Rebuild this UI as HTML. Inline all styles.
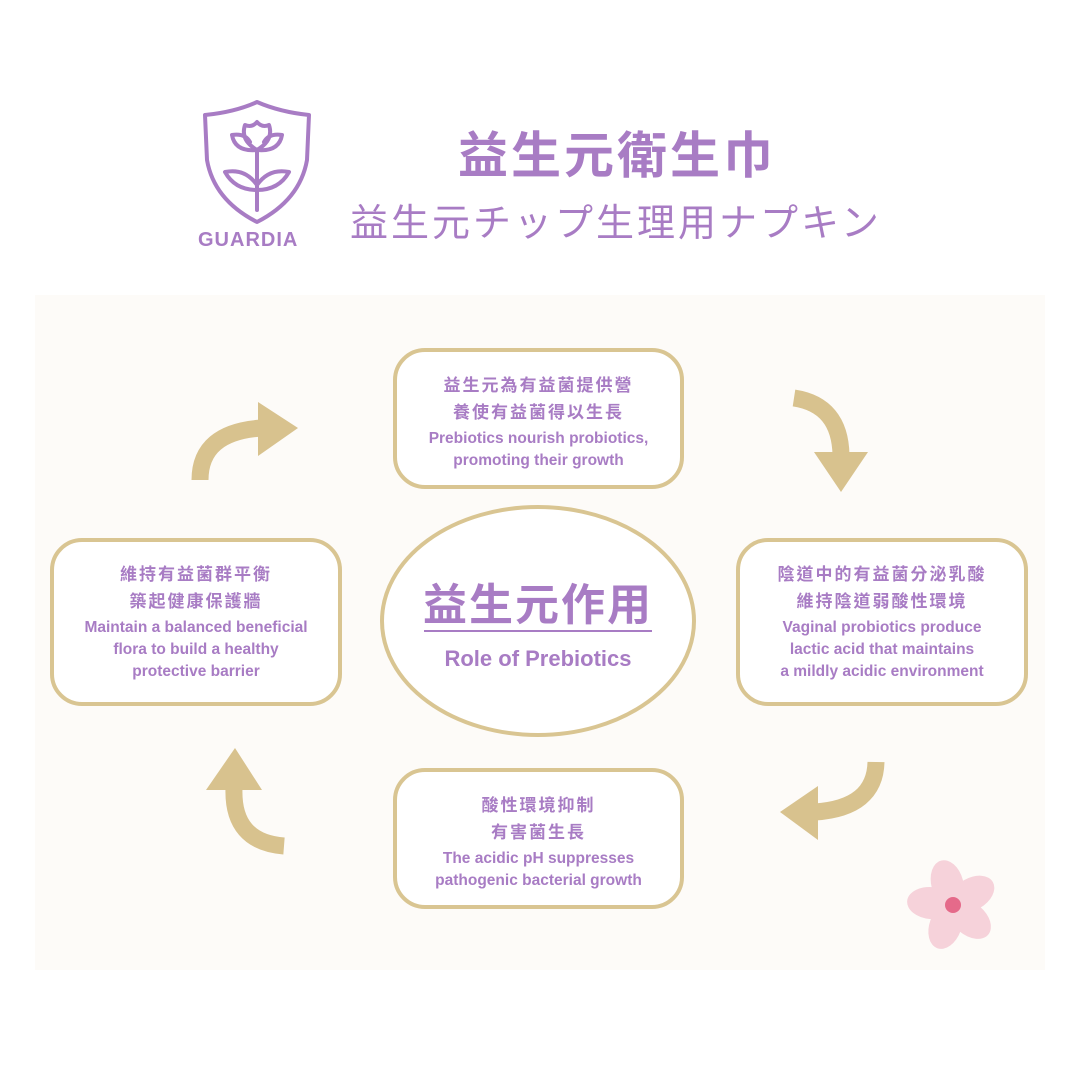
<!DOCTYPE html>
<html><head><meta charset="utf-8"><style>
body{margin:0;width:1080px;height:1080px;background:#fff;position:relative;overflow:hidden;font-family:"Liberation Sans","Noto Sans CJK TC",sans-serif;color:#a87cc4}
.panel{position:absolute;left:35px;top:295px;width:1010px;height:675px;background:#fdfbf8}
.box{position:absolute;border:4px solid #d9c592;border-radius:32px;background:#fff;box-sizing:border-box;text-align:center;font-weight:bold}
.cn{font-size:17px;letter-spacing:2px;line-height:27px}
.en{font-size:15.5px;line-height:22px;margin-top:2px;white-space:nowrap}
.abs{position:absolute}
</style></head><body>
<div class="panel"></div>
<svg class="abs" style="left:0;top:0" width="1080" height="1080">
<g fill="none" stroke="#a87cc4" stroke-width="4" stroke-linejoin="round" stroke-linecap="round">
<path d="M205 115 Q235 112 257 102 Q280 112 309 115 L307 160 Q300 200 257 222 Q214 200 207 160 Z"/>
<path d="M257 210 V150"/>
<path d="M257 150 Q240 140 245 125 Q252 128 257 122 Q262 128 269 125 Q274 140 257 150Z"/>
<path d="M257 150 Q235 152 232 135 Q245 133 250 142"/>
<path d="M257 150 Q279 152 282 135 Q269 133 264 142"/>
<path d="M257 190 Q235 190 225 172 Q245 168 257 185"/>
<path d="M257 190 Q279 190 289 172 Q269 168 257 185"/>
</g>
<ellipse cx="538" cy="621" rx="156" ry="114" fill="#fff" stroke="#d9c592" stroke-width="4"/>
<line x1="424" y1="631" x2="652" y2="631" stroke="#a87cc4" stroke-width="2"/>
<g fill="none" stroke="#d8c28e" stroke-width="17">
<path d="M200 480 Q200 432 262 428"/>
<path d="M794 398 Q840 405 841 455"/>
<path d="M876 762 Q875 808 815 812"/>
<path d="M284 846 Q232 842 234 788"/>
</g>
<g fill="#d8c28e">
<path d="M258 402 L298 428 L258 456 Z"/>
<path d="M814 452 L868 452 L841 492 Z"/>
<path d="M818 786 L818 840 L780 812 Z"/>
<path d="M206 790 L262 790 L235 748 Z"/>
</g>
<g transform="translate(953,905)">
<g fill="#f6d2da">
<ellipse cx="0" cy="-22" rx="16" ry="24" transform="rotate(-15)"/>
<ellipse cx="0" cy="-22" rx="16" ry="24" transform="rotate(60)"/>
<ellipse cx="0" cy="-22" rx="16" ry="24" transform="rotate(130)"/>
<ellipse cx="0" cy="-22" rx="16" ry="24" transform="rotate(200)"/>
<ellipse cx="0" cy="-22" rx="16" ry="24" transform="rotate(275)"/>
</g>
<circle r="8" fill="#e56a8a"/>
</g>
</svg>
<div class="abs" style="left:198px;top:229px;font-size:20px;font-weight:bold;letter-spacing:1px">GUARDIA</div>
<div class="abs" style="left:458px;top:116px;font-size:50px;font-weight:bold;letter-spacing:3px;white-space:nowrap">益生元衛生巾</div>
<div class="abs" style="left:350px;top:192px;font-size:38px;letter-spacing:3px;white-space:nowrap">益生元チップ生理用ナプキン</div>

<div class="box" style="left:393px;top:348px;width:291px;height:141px;padding-top:20px">
<div class="cn">益生元為有益菌提供營<br>養使有益菌得以生長</div>
<div class="en">Prebiotics nourish probiotics,<br>promoting their growth</div></div>

<div class="box" style="left:50px;top:538px;width:292px;height:168px;padding-top:19px">
<div class="cn">維持有益菌群平衡<br>築起健康保護牆</div>
<div class="en">Maintain a balanced beneficial<br>flora to build a healthy<br>protective barrier</div></div>

<div class="box" style="left:736px;top:538px;width:292px;height:168px;padding-top:19px">
<div class="cn">陰道中的有益菌分泌乳酸<br>維持陰道弱酸性環境</div>
<div class="en">Vaginal probiotics produce<br>lactic acid that maintains<br>a mildly acidic environment</div></div>

<div class="box" style="left:393px;top:768px;width:291px;height:141px;padding-top:20px">
<div class="cn">酸性環境抑制<br>有害菌生長</div>
<div class="en">The acidic pH suppresses<br>pathogenic bacterial growth</div></div>

<div class="abs" style="left:400px;top:569px;width:276px;text-align:center;font-size:44px;font-weight:bold;letter-spacing:2px;white-space:nowrap">益生元作用</div>
<div class="abs" style="left:400px;top:646px;width:276px;text-align:center;font-size:22px;font-weight:bold;white-space:nowrap">Role of Prebiotics</div>
</body></html>
